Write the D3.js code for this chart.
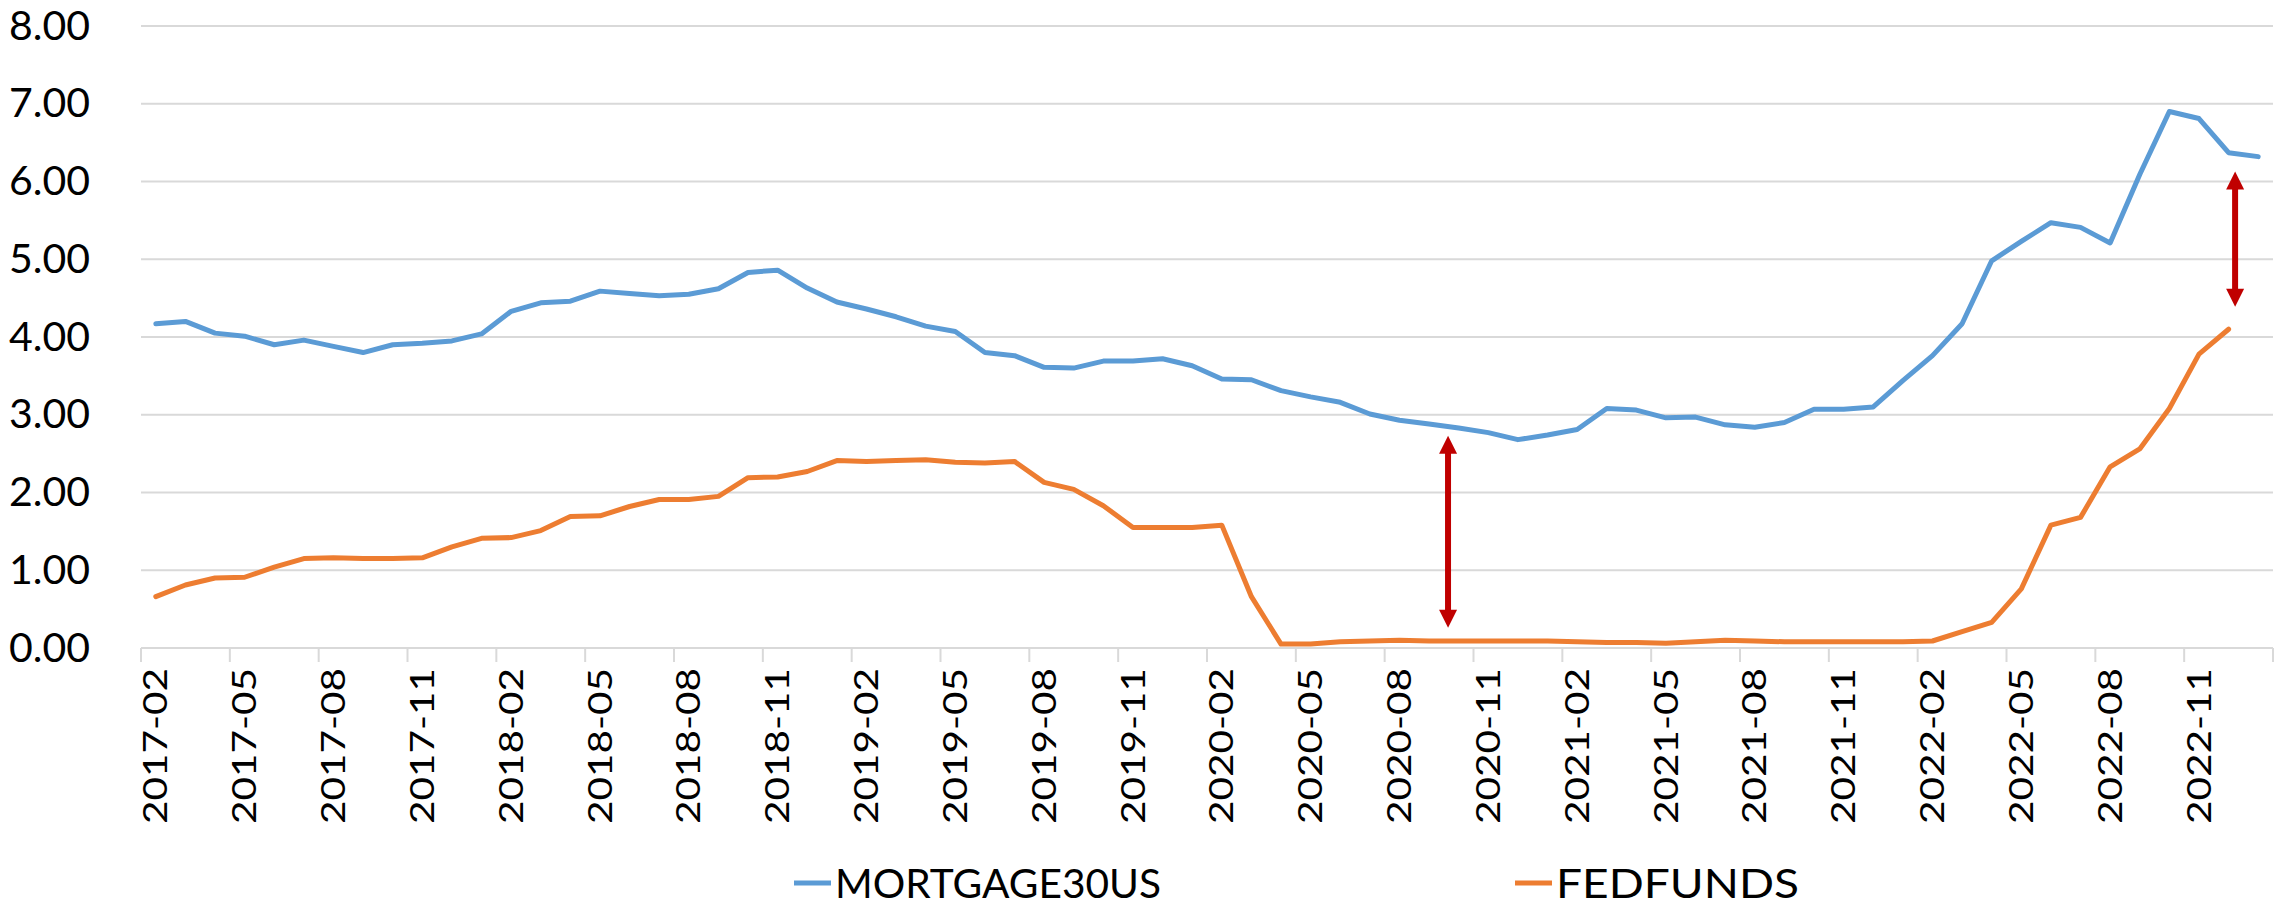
<!DOCTYPE html>
<html>
<head>
<meta charset="utf-8">
<script src="https://cdn.jsdelivr.net/npm/d3@7"></script>
<style>
  body { margin: 0; background: #fff; }
  text { font-family: Lato, "Liberation Sans", sans-serif; fill: #000; }
</style>
</head>
<body>
<div id="chart"></div>
<script>
const months = [
  "2017-02","2017-03","2017-04","2017-05","2017-06","2017-07","2017-08","2017-09","2017-10","2017-11","2017-12","2018-01",
  "2018-02","2018-03","2018-04","2018-05","2018-06","2018-07","2018-08","2018-09","2018-10","2018-11","2018-12","2019-01",
  "2019-02","2019-03","2019-04","2019-05","2019-06","2019-07","2019-08","2019-09","2019-10","2019-11","2019-12","2020-01",
  "2020-02","2020-03","2020-04","2020-05","2020-06","2020-07","2020-08","2020-09","2020-10","2020-11","2020-12","2021-01",
  "2021-02","2021-03","2021-04","2021-05","2021-06","2021-07","2021-08","2021-09","2021-10","2021-11","2021-12","2022-01",
  "2022-02","2022-03","2022-04","2022-05","2022-06","2022-07","2022-08","2022-09","2022-10","2022-11","2022-12","2023-01"
];

const mortgage30us = [
  4.17, 4.20, 4.05, 4.01, 3.90, 3.96, 3.88, 3.80, 3.90, 3.92, 3.95, 4.04,
  4.33, 4.44, 4.46, 4.59, 4.56, 4.53, 4.55, 4.62, 4.83, 4.86, 4.63, 4.45,
  4.36, 4.26, 4.14, 4.07, 3.80, 3.76, 3.61, 3.60, 3.69, 3.69, 3.72, 3.63,
  3.46, 3.45, 3.31, 3.23, 3.16, 3.01, 2.93, 2.88, 2.83, 2.77, 2.68, 2.74,
  2.81, 3.08, 3.06, 2.96, 2.97, 2.87, 2.84, 2.90, 3.07, 3.07, 3.10, 3.44,
  3.76, 4.17, 4.98, 5.23, 5.47, 5.41, 5.21, 6.09, 6.90, 6.81, 6.37, 6.32
];

const fedfunds = [
  0.66, 0.81, 0.90, 0.91, 1.04, 1.15, 1.16, 1.15, 1.15, 1.16, 1.30, 1.41,
  1.42, 1.51, 1.69, 1.70, 1.82, 1.91, 1.91, 1.95, 2.19, 2.20, 2.27, 2.41,
  2.40, 2.41, 2.42, 2.39, 2.38, 2.40, 2.13, 2.04, 1.83, 1.55, 1.55, 1.55,
  1.58, 0.66, 0.05, 0.05, 0.08, 0.09, 0.10, 0.09, 0.09, 0.09, 0.09, 0.09,
  0.08, 0.07, 0.07, 0.06, 0.08, 0.10, 0.09, 0.08, 0.08, 0.08, 0.08, 0.08,
  0.09, 0.21, 0.33, 0.76, 1.58, 1.68, 2.33, 2.56, 3.08, 3.78, 4.10, null
];

const yTicks = [0, 1, 2, 3, 4, 5, 6, 7, 8];
const tickMonths = months.filter((m, i) => i % 3 === 0);

// spread arrows: month they sit in, and the two values they span
const gapArrows = [
  { month: "2020-10", offset: 0.14, from: 0.26, to: 2.73 },
  { month: "2022-12", offset: 0.72, from: 4.39, to: 6.13 }
];

const series = [
  { name: "MORTGAGE30US", values: mortgage30us, color: "#5B9BD5" },
  { name: "FEDFUNDS", values: fedfunds, color: "#ED7D31" }
];

const W = 2285, H = 912;
const margin = { top: 26, right: 12, bottom: 264, left: 141 };
const width = W - margin.left - margin.right;
const height = H - margin.top - margin.bottom;

const svg = d3.select("#chart").append("svg")
  .attr("width", W)
  .attr("height", H);

svg.append("rect").attr("width", W).attr("height", H).attr("fill", "#fff");

const g = svg.append("g")
  .attr("transform", `translate(${margin.left}, ${margin.top})`);

const x = d3.scaleBand().domain(months).range([0, width]);
const y = d3.scaleLinear().domain([0, 8]).range([height, 0]);
const cx = m => x(m) + x.bandwidth() / 2;

g.append("g")
  .attr("class", "grid")
  .selectAll("line")
  .data(yTicks).enter()
  .append("line")
    .attr("x1", 0)
    .attr("x2", width)
    .attr("y1", d => y(d))
    .attr("y2", d => y(d))
    .attr("stroke", "#D9D9D9")
    .attr("stroke-width", 2);

const yAxis = g.append("g")
  .call(d3.axisLeft(y).tickValues(yTicks).tickFormat(d3.format(".2f")).tickSize(0).tickPadding(51));
yAxis.select(".domain").remove();
yAxis.selectAll("text")
  .style("font-family", "Lato, 'Liberation Sans', sans-serif")
  .style("font-size", "41px")
  .attr("fill", "#000");

const tickBounds = tickMonths.map(m => x(m)).concat([width]);
g.append("g")
  .selectAll("line")
  .data(tickBounds).enter()
  .append("line")
    .attr("x1", d => d)
    .attr("x2", d => d)
    .attr("y1", height)
    .attr("y2", height + 14)
    .attr("stroke", "#D9D9D9")
    .attr("stroke-width", 2);

g.append("g")
  .selectAll("text")
  .data(tickMonths).enter()
  .append("text")
    .attr("transform", d => `translate(${cx(d)}, ${height + 20}) rotate(-90)`)
    .attr("text-anchor", "end")
    .attr("dy", "0.36em")
    .attr("textLength", 156)
    .attr("lengthAdjust", "spacingAndGlyphs")
    .style("font-size", "32px")
    .text(d => d);

const line = d3.line()
  .defined(d => d.v != null)
  .x(d => cx(d.m))
  .y(d => y(d.v));

g.selectAll(".series")
  .data(series).enter()
  .append("path")
    .attr("class", "series")
    .attr("fill", "none")
    .attr("stroke", d => d.color)
    .attr("stroke-width", 5)
    .attr("stroke-linejoin", "round")
    .attr("stroke-linecap", "round")
    .attr("d", d => line(d.values.map((v, i) => ({ m: months[i], v }))));

const headW = 9, headL = 18;
const arrows = g.append("g").attr("class", "arrows");
gapArrows.forEach(a => {
  const ax = x(a.month) + x.bandwidth() * a.offset;
  const yTop = y(a.to), yBot = y(a.from);
  arrows.append("line")
    .attr("x1", ax).attr("x2", ax)
    .attr("y1", yTop + headL - 2).attr("y2", yBot - headL + 2)
    .attr("stroke", "#C00000")
    .attr("stroke-width", 6);
  arrows.append("path")
    .attr("d", `M${ax},${yTop} L${ax - headW},${yTop + headL} L${ax + headW},${yTop + headL} Z`)
    .attr("fill", "#C00000");
  arrows.append("path")
    .attr("d", `M${ax},${yBot} L${ax - headW},${yBot - headL} L${ax + headW},${yBot - headL} Z`)
    .attr("fill", "#C00000");
});

const legendItems = [
  { name: "MORTGAGE30US", color: "#5B9BD5", x: 794, len: 326 },
  { name: "FEDFUNDS", color: "#ED7D31", x: 1515, len: 243 }
];
const legend = svg.append("g").attr("class", "legend");
legendItems.forEach(d => {
  legend.append("line")
    .attr("x1", d.x).attr("x2", d.x + 37)
    .attr("y1", 883).attr("y2", 883)
    .attr("stroke", d.color)
    .attr("stroke-width", 5);
  legend.append("text")
    .attr("x", d.x + 41)
    .attr("y", 883)
    .attr("dy", "0.36em")
    .attr("textLength", d.len)
    .attr("lengthAdjust", "spacingAndGlyphs")
    .style("font-size", "41px")
    .text(d.name);
});
</script>
</body>
</html>
